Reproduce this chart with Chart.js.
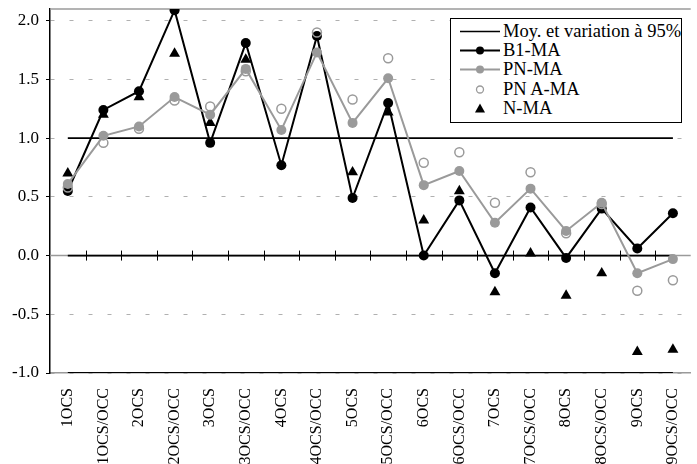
<!DOCTYPE html>
<html>
<head>
<meta charset="utf-8">
<script src="https://cdn.jsdelivr.net/npm/chart.js@4"></script>
<style>
  body { margin: 0; background: #fff; }
  #wrap { position: relative; width: 697px; height: 464px; overflow: hidden; }
  #legende {
    position: absolute; left: 450px; top: 18px; width: 232px; height: 105px;
    border: 1px solid #000; background: #fff; padding-top: 3px; box-sizing: border-box;
    font-family: "Liberation Serif", "Times New Roman", "DejaVu Serif", serif; font-size: 18.5px; color: #000;
  }
  #legende div { height: 19.2px; line-height: 19.2px; display: flex; align-items: center; white-space: nowrap; }
  #legende svg { margin-left: 9px; margin-right: 3px; flex: none; }
</style>
</head>
<body>
<div id="wrap">
  <canvas id="graf" width="697" height="464"></canvas>
  <div id="legende"></div>
</div>
<script>
const categories = ['1OCS', '1OCS/OCC', '2OCS', '2OCS/OCC', '3OCS', '3OCS/OCC', '4OCS', '4OCS/OCC', '5OCS',
  '5OCS/OCC', '6OCS', '6OCS/OCC', '7OCS', '7OCS/OCC', '8OCS', '8OCS/OCC', '9OCS', '9OCS/OCC'];

const seriesNames = ['Moy. et variation à 95%', 'B1-MA', 'PN-MA', 'PN A-MA', 'N-MA'];

const b1MA = [0.55, 1.24, 1.40, 2.09, 0.96, 1.81, 0.77, 1.87, 0.49, 1.30, 0.00, 0.47, -0.15, 0.41, -0.02, 0.40, 0.06, 0.36];
const pnMA = [0.61, 1.02, 1.10, 1.35, 1.20, 1.59, 1.07, 1.73, 1.13, 1.51, 0.60, 0.72, 0.28, 0.57, 0.21, 0.45, -0.15, -0.03];
const pnAMA = [0.58, 0.96, 1.08, 1.32, 1.27, 1.57, 1.25, 1.90, 1.33, 1.68, 0.79, 0.88, 0.45, 0.71, 0.19, 0.44, -0.30, -0.21];
const nMA = [0.70, 1.20, 1.35, 1.72, 1.13, 1.67, null, null, 0.71, 1.22, 0.30, 0.55, -0.31, 0.02, -0.34, -0.15, -0.82, -0.80];

// moyenne et bornes de la variation a 95%
const moyenne = 0.0;
const borneHaute = 1.0;
const borneBasse = -1.0;

const yTicks = [-1.0, -0.5, 0.0, 0.5, 1.0, 1.5, 2.0];

const GRIS = '#9a9a9a';
const serif = '"Liberation Serif", "Times New Roman", "DejaVu Serif", serif';

function ligneMoy(v) {
  return {
    label: seriesNames[0],
    data: [{ x: categories[0], y: v }, { x: categories[categories.length - 1], y: v }],
    borderColor: '#000',
    borderWidth: 1.8,
    pointRadius: 0,
    order: 6,
  };
}

// axe horizontal a y=0 avec graduations, bordure haute
const axeZero = {
  id: 'axeZero',
  beforeDatasetsDraw(chart) {
    const { ctx, chartArea, scales } = chart;
    const y0 = scales.y.getPixelForValue(0);
    ctx.save();
    ctx.strokeStyle = GRIS;
    ctx.lineWidth = 1.5;
    ctx.beginPath();
    ctx.moveTo(chartArea.left, y0);
    ctx.lineTo(chartArea.right, y0);
    ctx.moveTo(chartArea.left, chartArea.top);
    ctx.lineTo(chartArea.right, chartArea.top);
    ctx.stroke();
    ctx.restore();
  },
  afterDatasetsDraw(chart) {
    const { ctx, scales } = chart;
    const y0 = scales.y.getPixelForValue(0);
    ctx.save();
    ctx.strokeStyle = '#000';
    ctx.lineWidth = 1;
    ctx.beginPath();
    for (let i = 1; i < categories.length; i++) {
      const xb = (scales.x.getPixelForValue(i - 1) + scales.x.getPixelForValue(i)) / 2;
      ctx.moveTo(Math.round(xb) + 0.5, y0 - 5);
      ctx.lineTo(Math.round(xb) + 0.5, y0 + 5);
    }
    ctx.stroke();
    ctx.restore();
  },
};

const ctx = document.getElementById('graf').getContext('2d');

const myChart = new Chart(ctx, {
  type: 'line',
  data: {
    labels: categories,
    datasets: [
      ligneMoy(borneHaute),
      ligneMoy(moyenne),
      ligneMoy(borneBasse),
      {
        label: seriesNames[1],
        data: b1MA,
        borderColor: '#000',
        borderWidth: 2,
        pointRadius: 5,
        pointBackgroundColor: '#000',
        pointBorderWidth: 0,
        order: 4,
      },
      {
        label: seriesNames[2],
        data: pnMA,
        borderColor: GRIS,
        borderWidth: 2,
        pointRadius: 5,
        pointBackgroundColor: GRIS,
        pointBorderWidth: 0,
        order: 3,
      },
      {
        label: seriesNames[3],
        data: pnAMA,
        showLine: false,
        pointRadius: 4.5,
        pointBackgroundColor: 'rgba(0,0,0,0)',
        pointBorderColor: GRIS,
        pointBorderWidth: 1.5,
        order: 2,
      },
      {
        label: seriesNames[4],
        data: nMA,
        showLine: false,
        pointStyle: 'triangle',
        pointRadius: 6.3,
        pointBackgroundColor: '#000',
        pointBorderWidth: 0,
        order: 5,
      },
    ],
  },
  options: {
    responsive: false,
    animation: false,
    layout: { padding: { top: 9, left: 0, right: -3, bottom: 0 } },
    plugins: { legend: { display: false }, tooltip: { enabled: false } },
    scales: {
      x: {
        type: 'category',
        offset: true,
        grid: { display: false },
        border: { display: true, color: GRIS, width: 1.5 },
        ticks: {
          autoSkip: false,
          minRotation: 90,
          maxRotation: 90,
          padding: 7,
          color: '#000',
          font: { family: serif, size: 16 },
        },
        afterFit: (scale) => {
          scale.height = 91;
          scale.paddingLeft = 0;
          scale.paddingRight = 0;
        },
      },
      y: {
        min: -1.0,
        max: 2.1,
        afterBuildTicks: (scale) => { scale.ticks = yTicks.map((v) => ({ value: v })); },
        grid: {
          color: '#b0b0b0',
          lineWidth: 1,
          tickColor: '#000',
          tickLength: 4,
          tickBorderDash: [],
        },
        border: { display: true, color: '#000', width: 1.5, dash: [4, 15] },
        ticks: {
          padding: 7,
          color: '#000',
          font: { family: serif, size: 17 },
          callback: (value) => value.toFixed(1),
        },
        afterFit: (scale) => {
          scale.width = 50;
          scale.paddingTop = 0;
          scale.paddingBottom = 0;
        },
      },
    },
  },
  plugins: [axeZero],
});

// legende a l'interieur du graphique
const symboles = [
  '<line x1="0" y1="9.5" x2="40" y2="9.5" stroke="#000" stroke-width="1.5"/>',
  '<line x1="0" y1="9.5" x2="40" y2="9.5" stroke="#000" stroke-width="2"/><circle cx="20" cy="9.5" r="4" fill="#000"/>',
  '<line x1="0" y1="9.5" x2="40" y2="9.5" stroke="' + GRIS + '" stroke-width="2"/><circle cx="20" cy="9.5" r="4" fill="' + GRIS + '"/>',
  '<circle cx="20" cy="9.5" r="3.5" fill="none" stroke="' + GRIS + '" stroke-width="1.3"/>',
  '<polygon points="20,4.5 25,13.5 15,13.5" fill="#000"/>',
];
const legende = document.getElementById('legende');
seriesNames.forEach((nom, i) => {
  const row = document.createElement('div');
  row.innerHTML = '<svg width="40" height="19">' + symboles[i] + '</svg><span>' + nom + '</span>';
  legende.appendChild(row);
});
</script>
</body>
</html>
